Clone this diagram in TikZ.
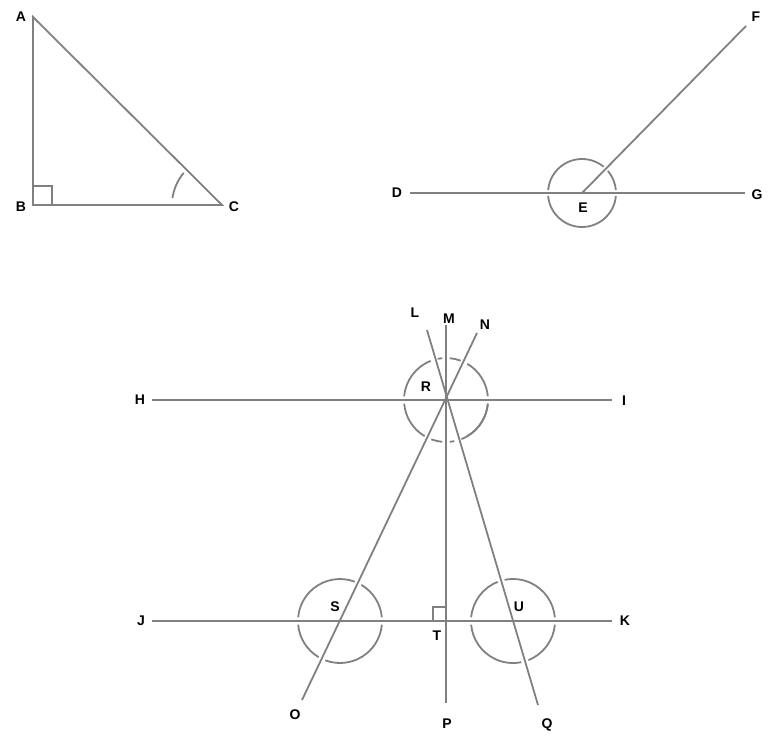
\documentclass[tikz,border=0pt]{standalone}
\usepackage{fontspec}
\setmainfont{Liberation Sans}
\usetikzlibrary{calc}
\begin{document}
\begin{tikzpicture}[x=1pt,y=-1pt,
  ln/.style={draw=black!50,line width=1.8pt},
  lab/.style={font=\bfseries\fontsize{14}{14}\selectfont,text=black},
  pt/.style={inner sep=0pt}]
\newcommand\garc[4]{\draw[ln] ([shift={(#3:#2)}]#1) arc[start angle=#3,end angle=#4,radius=#2];}
\useasboundingbox (0,0) rectangle (776,748);
% triangle
\coordinate (A) at (33,17); \coordinate (B) at (33,205); \coordinate (C) at (222,205);
\draw[ln] (A) -- (B) -- (C) -- cycle;
\draw[ln] ($(B)+(0,-19)$) -- ++(19,0) -- ++(0,19);
\draw[ln] ([shift={(-140:50)}]C) arc[start angle=-140,end angle=-172,radius=50];
\node[lab] at (21,17) {A}; \node[lab] at (21,207) {B}; \node[lab] at (234,207) {C};
% DEFG
\coordinate (E) at (582,193); \coordinate (D) at (410,193); \coordinate (G) at (745,193); \coordinate (F) at (746,26);
\draw[ln] (D) -- (G); \draw[ln] (E) -- (F);
\garc{E}{34}{-5}{-40.5}
\garc{E}{34}{-50.5}{-175}
\garc{E}{34}{5}{175}
\node[lab] at (397,193) {D}; \node[lab] at (757,195) {G}; \node[lab] at (756,17) {F}; \node[lab] at (583,208) {E};
% bottom
\coordinate (R) at (446,400); \coordinate (S) at (340,621); \coordinate (T) at (446,621); \coordinate (U) at (513,621);
\coordinate (H) at (152,400); \coordinate (I) at (612,400);
\coordinate (J) at (152,621); \coordinate (K) at (612,621);
\coordinate (M) at (446,325); \coordinate (P) at (446,703);
\coordinate (L) at (427,330); \coordinate (Q) at (538,705);
\coordinate (N) at (477,333); \coordinate (O) at (302,700);
\draw[ln] (H) -- (I); \draw[ln] (J) -- (K); \draw[ln] (M) -- (P);
\draw[ln] (L) -- (Q); \draw[ln] (N) -- (O);
\draw[ln] (433,621) -- (433,607) -- (446,607);
\foreach \a/\b in {5/60,-5/-59.5,-69.5/-85,-95/-101.5,-111.5/-175,-185/-239.5,-249.5/-265,-275/-281.5,-291.5/-355}
  {\garc{R}{42}{\a}{\b}}
\foreach \a/\b in {-5/-59.5,-69.5/-175,-185/-239.5,-249.5/-355}
  {\garc{S}{42}{\a}{\b}}
\foreach \a/\b in {-5/-101.5,-111.5/-175,-185/-281.5,-291.5/-355}
  {\garc{U}{42}{\a}{\b}}
\node[lab] at (415,313) {L}; \node[lab] at (449,319) {M}; \node[lab] at (485,325) {N};
\node[lab] at (140,400) {H}; \node[lab] at (624,401) {I}; \node[lab] at (426,387) {R};
\node[lab] at (335,607) {S}; \node[lab] at (519,607) {U}; \node[lab] at (437,636) {T};
\node[lab] at (141,621) {J}; \node[lab] at (625,621) {K};
\node[lab] at (295,715) {O}; \node[lab] at (447,724) {P}; \node[lab] at (547,725) {Q};
\end{tikzpicture}
\end{document}
